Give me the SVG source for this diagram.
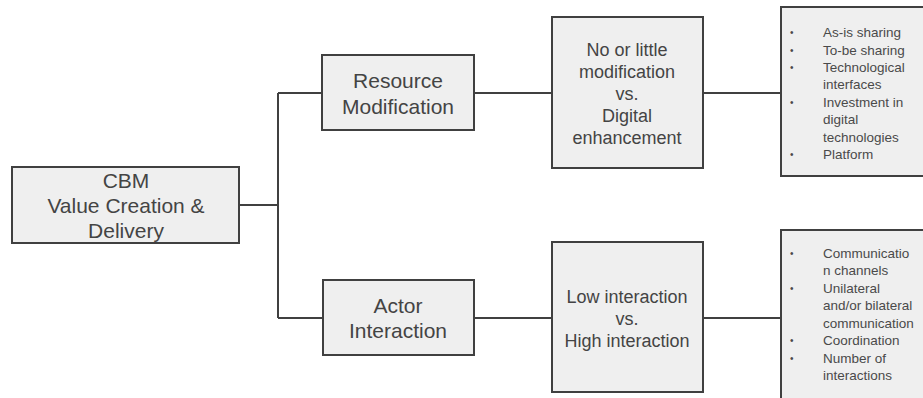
<svg xmlns="http://www.w3.org/2000/svg" width="923" height="398" viewBox="0 0 923 398">
<style>
.box{fill:#efefef;stroke:#404040;stroke-width:2}
.t{font-family:"Liberation Sans",Arial,sans-serif;fill:#444;text-anchor:middle}
.big{font-size:21px}
.mid{font-size:18px}
.li{font-family:"Liberation Sans",Arial,sans-serif;fill:#4a4a4a;font-size:13.5px}
.bul{font-family:"Liberation Sans",Arial,sans-serif;fill:#4a4a4a;font-size:10px}
.c{fill:none;stroke:#404040;stroke-width:2}
</style>
<rect width="923" height="398" fill="#fff"/>
<g id="connectors">
<path class="c" d="M239 205H278M278 93V318M278 93H322M278 318H323M474 93H552M474 318H552M703 93H781M703 318H781"/>
</g>
<g id="cbm">
<rect class="box" x="12" y="167" width="227" height="76"/>
<text class="t big" x="126" y="188">CBM</text>
<text class="t big" x="126" y="213">Value Creation &amp;</text>
<text class="t big" x="126" y="238">Delivery</text>
</g>
<g id="resource">
<rect class="box" x="322" y="55" width="152" height="75"/>
<text class="t big" x="398" y="88">Resource</text>
<text class="t big" x="398" y="114">Modification</text>
</g>
<g id="actor">
<rect class="box" x="323" y="280" width="151" height="75"/>
<text class="t big" x="398" y="313">Actor</text>
<text class="t big" x="398" y="338">Interaction</text>
</g>
<g id="digital">
<rect class="box" x="552" y="17" width="151" height="151"/>
<text class="t mid" x="627" y="56">No or little</text>
<text class="t mid" x="627" y="78">modification</text>
<text class="t mid" x="627" y="100">vs.</text>
<text class="t mid" x="627" y="122">Digital</text>
<text class="t mid" x="627" y="144">enhancement</text>
</g>
<g id="interaction">
<rect class="box" x="552" y="242" width="151" height="150"/>
<text class="t mid" x="627" y="303">Low interaction</text>
<text class="t mid" x="627" y="325">vs.</text>
<text class="t mid" x="627" y="347">High interaction</text>
</g>
<g id="list-top">
<rect class="box" x="781" y="7" width="150" height="169"/>
<text class="bul" x="790" y="36">•</text>
<text class="bul" x="790" y="53.5">•</text>
<text class="bul" x="790" y="71">•</text>
<text class="bul" x="790" y="105.5">•</text>
<text class="bul" x="790" y="157.5">•</text>
<text class="li" x="823" y="37">As-is sharing</text>
<text class="li" x="823" y="54.5">To-be sharing</text>
<text class="li" x="823" y="72">Technological</text>
<text class="li" x="823" y="89">interfaces</text>
<text class="li" x="823" y="106.5">Investment in</text>
<text class="li" x="823" y="124">digital</text>
<text class="li" x="823" y="141.5">technologies</text>
<text class="li" x="823" y="158.5">Platform</text>
</g>
<g id="list-bottom">
<rect class="box" x="781" y="230" width="150" height="180"/>
<text class="bul" x="790" y="256.5">•</text>
<text class="bul" x="790" y="291.5">•</text>
<text class="bul" x="790" y="344">•</text>
<text class="bul" x="790" y="361.5">•</text>
<text class="li" x="823" y="257.5">Communicatio</text>
<text class="li" x="823" y="275">n channels</text>
<text class="li" x="823" y="292.5">Unilateral</text>
<text class="li" x="823" y="310">and/or bilateral</text>
<text class="li" x="823" y="327.5">communication</text>
<text class="li" x="823" y="345">Coordination</text>
<text class="li" x="823" y="362.5">Number of</text>
<text class="li" x="823" y="380">interactions</text>
</g>
</svg>
